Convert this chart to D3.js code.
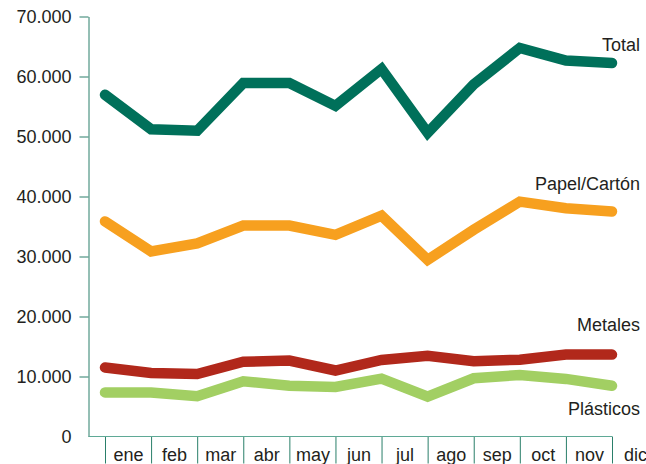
<!DOCTYPE html>
<html>
<head>
<meta charset="utf-8">
<script src="https://cdn.jsdelivr.net/npm/d3@7"></script>
<style>
  body { margin: 0; background: #fff; }
  svg text { font-family: "Liberation Sans", Arial, Helvetica, sans-serif; fill: #231f20; }
</style>
</head>
<body>
<svg width="646" height="464"></svg>
<script>
// months and the monthly tonnage of each series
var months = ["ene", "feb", "mar", "abr", "may", "jun", "jul", "ago", "sep", "oct", "nov", "dic"];
var total     = [56950, 51200, 50950, 58900, 58900, 55100, 61250, 50600, 58700, 64750, 62650, 62250];
var papel     = [35850, 30850, 32200, 35150, 35150, 33600, 36800, 29450, 34450, 39150, 38050, 37500];
var metales   = [11500, 10600, 10400, 12450, 12650, 11000, 12750, 13450, 12550, 12800, 13650, 13650];
var plasticos = [7350, 7350, 6700, 9200, 8450, 8250, 9650, 6650, 9700, 10250, 9600, 8450];
var yTicks = [0, 10000, 20000, 30000, 40000, 50000, 60000, 70000];

var seriesNames = ["Total", "Papel/Cartón", "Metales", "Plásticos"];
var seriesValues = [total, papel, metales, plasticos];
var colors = ["#00705a", "#f7a01f", "#b1281b", "#a2cf63"];
// label offset from the last point
var labelDy = [-12.5, -21.5, -23.5, 29];

var svg = d3.select("svg");
var axisColor = "#2a7f6a";

var x = d3.scalePoint().domain(months).range([105, 612]);
var y = d3.scaleLinear().domain([0, 70000]).range([436.5, 16.5]);

var fmt = d3.formatLocale({ decimal: ",", thousands: ".", grouping: [3], currency: ["", "€"] }).format(",d");

// y axis
var yAxis = svg.append("g")
  .attr("transform", "translate(88.5,0)")
  .call(d3.axisLeft(y).tickValues(yTicks).tickFormat(fmt).tickSize(9).tickSizeOuter(0).tickPadding(8));
yAxis.select(".domain").attr("stroke", axisColor);
yAxis.selectAll(".tick line").attr("stroke", axisColor)
  .filter(function(d) { return d === 0; }).remove();
yAxis.selectAll(".tick text").attr("font-size", 18).attr("dy", "0.36em");

// x axis: baseline + month separators, labels between them
var xAxis = svg.append("g")
  .attr("transform", "translate(0,436.5)")
  .call(d3.axisBottom(x).tickSize(27).tickSizeOuter(0));
xAxis.select(".domain").remove();
xAxis.selectAll(".tick line").attr("stroke", axisColor);
xAxis.selectAll(".tick text")
  .attr("font-size", 18)
  .attr("x", x.step() / 2)
  .attr("y", 24)
  .attr("dy", 0);
xAxis.append("line")
  .attr("x1", 88.5).attr("x2", x(months[months.length - 1]))
  .attr("y1", 0).attr("y2", 0)
  .attr("stroke", "#5fa996");

var line = d3.line()
  .x(function(d, i) { return x(months[i]); })
  .y(function(d) { return y(d); });

svg.append("g").selectAll("path")
  .data(seriesValues)
  .enter().append("path")
  .attr("d", line)
  .attr("fill", "none")
  .attr("stroke", function(d, i) { return colors[i]; })
  .attr("stroke-width", 10.5)
  .attr("stroke-linecap", "round")
  .attr("stroke-linejoin", "miter");

svg.append("g").selectAll("text")
  .data(seriesNames)
  .enter().append("text")
  .attr("x", 640)
  .attr("y", function(d, i) { var v = seriesValues[i]; return y(v[v.length - 1]) + labelDy[i]; })
  .attr("text-anchor", "end")
  .attr("font-size", 18)
  .text(function(d) { return d; });
</script>
</body>
</html>
